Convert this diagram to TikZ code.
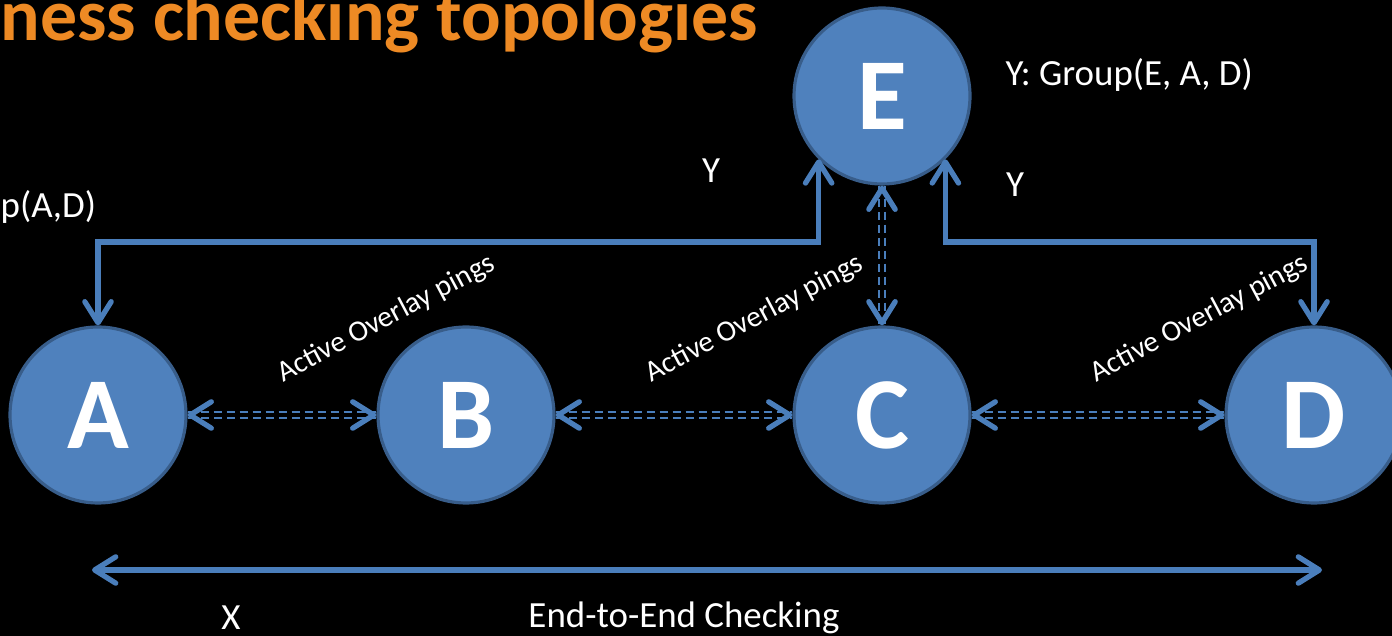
\documentclass[tikz,border=0pt]{standalone}
\usepackage{fontspec}
\setmainfont{Carlito}
\usepackage{tikz}
\usetikzlibrary{arrows.meta, positioning, calc}

\definecolor{nodeblue}{HTML}{4F81BD}
\definecolor{nodeedge}{HTML}{385D8A}
\definecolor{lineblue}{HTML}{4A7EBB}
\definecolor{titleorange}{HTML}{EE8A24}

\begin{document}
\begin{tikzpicture}[
  peer/.style={circle, fill=nodeblue, draw=nodeedge, line width=0.9pt, minimum size=1.76cm, inner sep=0pt, text=white, font=\fontsize{29}{29}\selectfont\bfseries},
  barb/.tip={Straight Barb[round, length=6pt, width=7.5pt]},
  link/.style={draw=lineblue, line width=1.5pt, line cap=round, barb-barb},
  ping/.style={draw=lineblue, line width=0.7pt, double=black, double distance=1.1pt, dash pattern=on 2.3pt off 1.4pt},
  pingtips/.style={lineblue, line width=1.5pt, tips, barb-barb},
  pinglabel/.style={inner sep=0pt, anchor=base west, text=white, font=\fontsize{8.4}{10}\selectfont, yshift=0.32cm, rotate=28},
  txt/.style={inner sep=0pt, text=white, font=\fontsize{10.5}{12}\selectfont}
]
\useasboundingbox (0,0) rectangle (13.92,-6.36);
\fill[black] (0,0) rectangle (13.92,-6.36);

% title
\node[inner sep=0pt, anchor=base west, text=titleorange, font=\fontsize{21}{24}\selectfont\bfseries] (title) at (0,-0.41) {ness checking topologies};

% peers
\node[peer] (A) at (0.98,-4.15) {A};
\node[peer] (B) at (4.66,-4.15) {B};
\node[peer] (C) at (8.82,-4.15) {C};
\node[peer] (D) at (13.14,-4.15) {D};
\node[peer] (E) at (8.82,-0.96) {E};

\coordinate (bus) at (0,-2.42);
\coordinate (endL) at (0.92,-5.70);
\coordinate (endR) at (13.22,-5.70);

% group links from E
\draw[link] (E.south west) -- (E.south west |- bus) -| (A.north);
\draw[link] (E.south east) -- (E.south east |- bus) -| (D.north);

% overlay pings
\draw[ping] (A.east) -- (B.west) node[pinglabel, pos=0.5] (lab1) {Active Overlay pings};
\draw[ping] (B.east) -- (C.west) node[pinglabel, pos=0.4] (lab2) {Active Overlay pings};
\draw[ping] (C.east) -- (D.west) node[pinglabel, pos=0.49] (lab3) {Active Overlay pings};
\draw[ping] (E.south) -- (C.north);
\path[pingtips] (A.east) -- (B.west);
\path[pingtips] (B.east) -- (C.west);
\path[pingtips] (C.east) -- (D.west);
\path[pingtips] (E.south) -- (C.north);

% end to end
\draw[link] (endL) -- (endR);

% texts
\node[txt, anchor=west] (grpE) at (10.05,-0.75) {Y: Group(E, A, D)};
\node[txt, anchor=west] (grpA) at (0,-2.07) {p(A,D)};
\node[txt] (yL) at (7.11,-1.71) {Y};
\node[txt] (yR) at (10.15,-1.85) {Y};
\node[txt] (x) at (2.31,-6.18) {X};
\node[txt] (e2e) at (6.84,-6.18) {End-to-End Checking};
\end{tikzpicture}
\end{document}
